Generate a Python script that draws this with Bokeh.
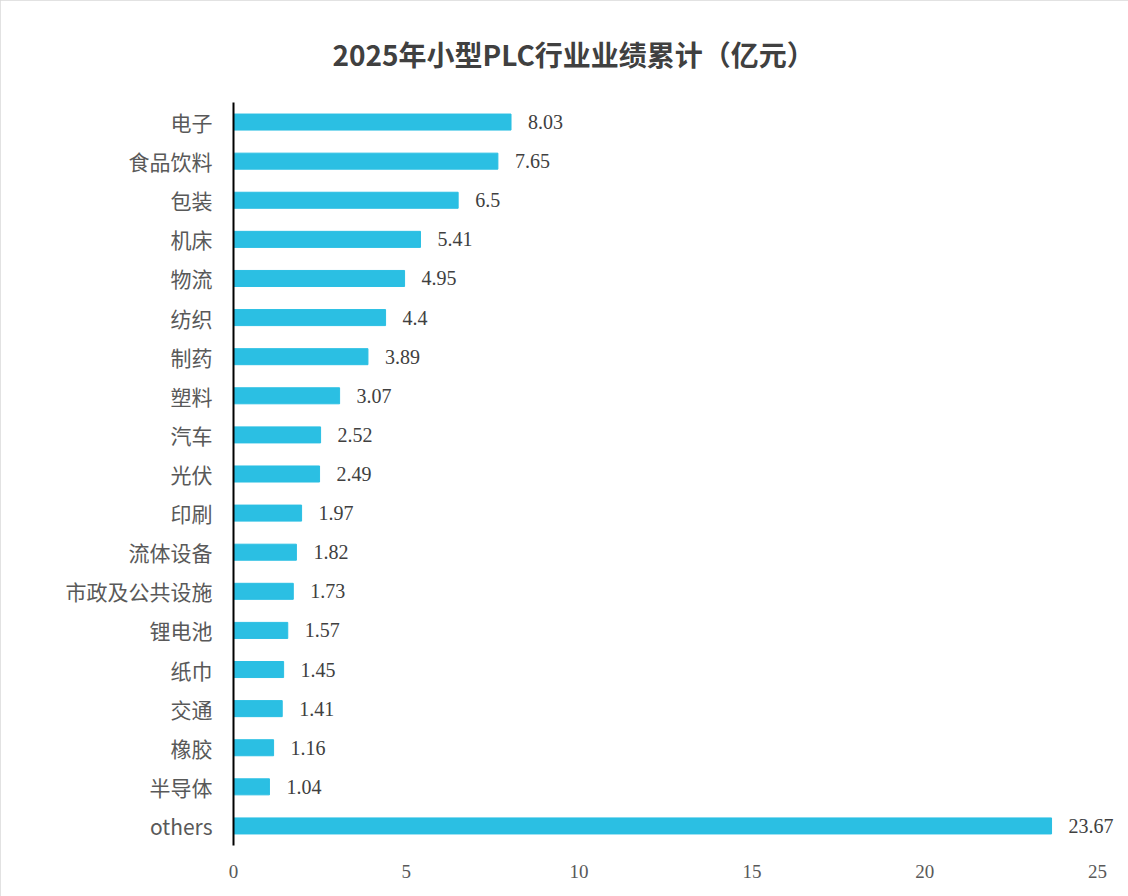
from bokeh.plotting import figure
from bokeh.models import FactorRange, Range1d, Title, FixedTicker, ColumnDataSource
from bokeh.core.properties import value
from bokeh.embed import file_html
from bokeh.resources import INLINE

categories = ["电子", "食品饮料", "包装", "机床", "物流", "纺织", "制药", "塑料", "汽车", "光伏",
              "印刷", "流体设备", "市政及公共设施", "锂电池", "纸巾", "交通", "橡胶", "半导体", "others"]
values = [8.03, 7.65, 6.5, 5.41, 4.95, 4.4, 3.89, 3.07, 2.52, 2.49,
          1.97, 1.82, 1.73, 1.57, 1.45, 1.41, 1.16, 1.04, 23.67]
value_labels = ["8.03", "7.65", "6.5", "5.41", "4.95", "4.4", "3.89", "3.07", "2.52", "2.49",
                "1.97", "1.82", "1.73", "1.57", "1.45", "1.41", "1.16", "1.04", "23.67"]
x_ticks = [0, 5, 10, 15, 20, 25]

src = ColumnDataSource(dict(cat=categories, val=values, lab=value_labels))

p = figure(width=1128, height=896, output_backend="svg", toolbar_location=None,
           y_range=FactorRange(factors=list(reversed(categories)), range_padding=0),
           x_range=Range1d(0, 25.81),
           min_border_left=233, min_border_right=3, min_border_top=102, min_border_bottom=51)

p.title = Title(text="2025年小型PLC行业业绩累计（亿元）", align="left", offset=99,
                text_font="Noto Sans CJK SC", text_font_size="28px",
                text_font_style="bold", text_color="#404040", standoff=57)

p.hbar(y="cat", right="val", left=0, height=0.41, source=src, color="#2BBFE3")
p.text(x="val", y="cat", text="lab", source=src, x_offset=17,
       text_baseline="middle", text_align="left",
       text_font=value("Liberation Serif"), text_font_size="20px", text_color="#404040")

p.outline_line_color = None
p.xgrid.grid_line_color = None
p.ygrid.grid_line_color = None

p.xaxis.ticker = FixedTicker(ticks=x_ticks)
p.xaxis.axis_line_color = None
p.xaxis.major_tick_line_color = None
p.xaxis.minor_tick_line_color = None
p.xaxis.major_tick_out = 0
p.xaxis.major_label_standoff = 19
p.xaxis.major_label_text_font = "Liberation Serif"
p.xaxis.major_label_text_font_size = "19px"
p.xaxis.major_label_text_color = "#595959"

p.yaxis.axis_line_color = "black"
p.yaxis.axis_line_width = 2
p.yaxis.major_tick_line_color = None
p.yaxis.minor_tick_line_color = None
p.yaxis.major_tick_out = 0
p.yaxis.major_label_standoff = 21
p.yaxis.major_label_text_font = "Noto Sans CJK SC"
p.yaxis.major_label_text_font_size = "21px"
p.yaxis.major_label_text_color = "#595959"

p.styles = {"outline": "2px solid #d9d9d9", "outline-offset": "-2px"}

open("out.html", "w").write(file_html(p, INLINE))
